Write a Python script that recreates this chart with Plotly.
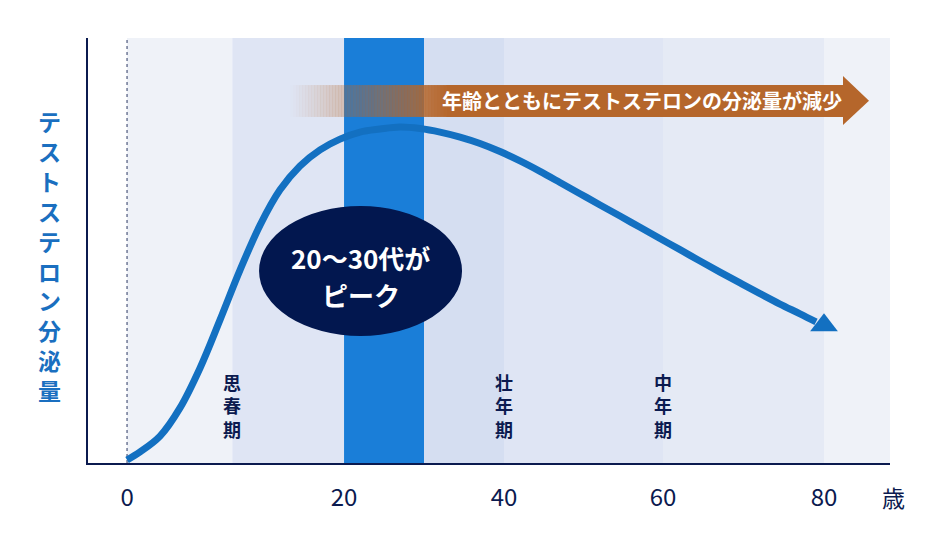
import numpy as np
import plotly.graph_objects as go

# ---------------- data ----------------
AGE_TICKS = [0, 20, 40, 60, 80]
TICK_LABELS = ["0", "20", "40", "60", "80"]
TICK_POS = [127, 344, 504, 663, 824]   # horizontal scale position of each tick age

CURVE_AGE = [0.0, 1.20, 3.04, 4.88, 6.73, 8.57, 10.41, 12.26, 14.10, 15.94, 17.79, 19.63,
             22.0, 24.5, 27.0, 29.5, 32.0, 34.5, 37.0, 39.5,
             42.01, 44.53, 47.04, 49.56, 52.08, 54.59, 57.11, 59.62,
             62.11, 64.60, 67.08, 69.57, 72.05, 74.53, 77.02, 79.01]
CURVE_LEVEL = [0.9, 3.3, 8.0, 16.4, 28.3, 42.6, 57.4, 70.8, 81.3, 88.4, 93.2, 96.4,
               98.5, 99.4, 100.0, 99.55, 98.5, 97.0, 95.1, 92.7,
               89.9, 86.8, 83.5, 80.15, 76.8, 73.5, 70.15, 66.8,
               63.5, 60.1, 56.8, 53.6, 50.4, 47.3, 44.4, 42.0]
ARROW_AGE = 80.0
ARROW_LEVEL = 41.0

BAND_EDGES = [0, 9.7, 20, 30, 40, 60, 80, 88.2]
BAND_COLORS = ["#eff2f8", "#dfe5f4", "#1a7ed8", "#d5def1", "#dfe5f4", "#e5eaf5", "#eff2f8"]

STAGE_AGES = [9.7, 40, 60]
STAGE_LABELS = ["思<br>春<br>期", "壮<br>年<br>期", "中<br>年<br>期"]

Y_TITLE = "テストステロン分泌量"
BANNER_TEXT = "年齢とともにテストステロンの分泌量が減少"
PEAK_TEXT = ["20～30代が", "ピーク"]
UNIT_TEXT = "歳"

X_RANGE_AGE = [-3.6, 88.2]
Y_RANGE = [0, 126.5]

# ---------------- helpers ----------------
def to_pos(a):
    a = np.asarray(a, dtype=float)
    p = np.interp(a, AGE_TICKS, TICK_POS)
    s_hi = (TICK_POS[-1] - TICK_POS[-2]) / (AGE_TICKS[-1] - AGE_TICKS[-2])
    s_lo = (TICK_POS[1] - TICK_POS[0]) / (AGE_TICKS[1] - AGE_TICKS[0])
    p = np.where(a > AGE_TICKS[-1], TICK_POS[-1] + (a - AGE_TICKS[-1]) * s_hi, p)
    p = np.where(a < AGE_TICKS[0], TICK_POS[0] + (a - AGE_TICKS[0]) * s_lo, p)
    return p

NAVY = "#0b1a4f"
CURVE = "#1370c1"
FONT = "Noto Sans CJK JP"
BROWN = (181, 102, 43)

x_lo, x_hi = [float(v) for v in to_pos(X_RANGE_AGE)]

fig = go.Figure()

shapes = []
# background bands
for i, c in enumerate(BAND_COLORS):
    shapes.append(dict(type="rect", xref="x", yref="paper",
                       x0=float(to_pos(BAND_EDGES[i])), x1=float(to_pos(BAND_EDGES[i + 1])),
                       y0=0, y1=1, fillcolor=c, line=dict(width=0), layer="below"))
# dotted line at age 0
shapes.append(dict(type="line", xref="x", yref="paper",
                   x0=float(to_pos(0)), x1=float(to_pos(0)), y0=0, y1=1,
                   line=dict(color="#6f7896", width=1.5, dash="dot"), layer="below"))

# gradient banner (decoration)
g0, g1, bx1 = 290.0, 446.0, 843.0
by0, by1 = 103.0, 112.5
N = 52
w = (g1 - g0) / N
for k in range(N):
    a = ((k + 0.5) / N) ** 1.1
    shapes.append(dict(type="rect", xref="x", yref="y", x0=g0 + k * w, x1=g0 + (k + 1) * w + 0.3,
                       y0=by0, y1=by1,
                       fillcolor=f"rgba({BROWN[0]},{BROWN[1]},{BROWN[2]},{a:.3f})",
                       line=dict(width=0), layer="above"))
shapes.append(dict(type="rect", xref="x", yref="y", x0=g1, x1=bx1 + 0.5, y0=by0, y1=by1,
                   fillcolor=f"rgb({BROWN[0]},{BROWN[1]},{BROWN[2]})", line=dict(width=0), layer="above"))
shapes.append(dict(type="path", xref="x", yref="y",
                   path=f"M {bx1},100.6 L 869,107.8 L {bx1},115.2 Z",
                   fillcolor=f"rgb({BROWN[0]},{BROWN[1]},{BROWN[2]})", line=dict(width=0), layer="above"))
# peak ellipse
shapes.append(dict(type="circle", xref="x", yref="y", x0=259, x1=462, y0=37.8, y1=76.5,
                   fillcolor="#02174f", line=dict(width=0), layer="above"))

fig.add_trace(go.Scatter(x=to_pos(CURVE_AGE), y=CURVE_LEVEL, mode="lines",
                         line=dict(color=CURVE, width=7, shape="spline", smoothing=1.0),
                         hoverinfo="skip", showlegend=False))
fig.add_trace(go.Scatter(x=to_pos([ARROW_AGE]), y=[ARROW_LEVEL], mode="markers",
                         marker=dict(symbol="triangle-up", size=24, color=CURVE, line=dict(width=0)),
                         cliponaxis=False, hoverinfo="skip", showlegend=False))

annotations = []
annotations.append(dict(text="<b>" + "<br>".join(list(Y_TITLE)) + "</b>", xref="paper", yref="paper",
                        x=-0.0474, y=0.489, xanchor="center", yanchor="middle", showarrow=False,
                        font=dict(family=FONT, size=23, color="#1a6fc0")))
for a, t in zip(STAGE_AGES, STAGE_LABELS):
    annotations.append(dict(text="<b>" + t + "</b>", xref="x", yref="y", x=float(to_pos(a)), y=17.0,
                            xanchor="center", yanchor="middle", showarrow=False,
                            font=dict(family=FONT, size=18, color=NAVY)))
annotations.append(dict(text="<b>" + BANNER_TEXT + "</b>", xref="x", yref="y", x=642, y=107.8,
                        xanchor="center", yanchor="middle", showarrow=False,
                        font=dict(family=FONT, size=20, color="white")))
annotations.append(dict(text="<b>" + PEAK_TEXT[0] + "</b>", xref="x", yref="y", x=360.5, y=61.3,
                        xanchor="center", yanchor="middle", showarrow=False,
                        font=dict(family=FONT, size=26, color="white")))
annotations.append(dict(text="<b>" + PEAK_TEXT[1] + "</b>", xref="x", yref="y", x=360.5, y=50.3,
                        xanchor="center", yanchor="middle", showarrow=False,
                        font=dict(family=FONT, size=26, color="white")))
annotations.append(dict(text=UNIT_TEXT, xref="paper", yref="paper", x=(893 - 88) / 802, y=-0.08,
                        xanchor="center", yanchor="middle", showarrow=False,
                        font=dict(family=FONT, size=23, color=NAVY)))

fig.update_layout(
    width=929, height=537,
    margin=dict(l=88, r=39, t=38, b=74),
    paper_bgcolor="white", plot_bgcolor="white",
    shapes=shapes, annotations=annotations,
    showlegend=False,
    xaxis=dict(range=[x_lo, x_hi], tickvals=list(to_pos(AGE_TICKS)), ticktext=TICK_LABELS,
               showgrid=False, zeroline=False, showline=True, linecolor=NAVY, linewidth=2,
               ticks="outside", ticklen=12, tickcolor="rgba(0,0,0,0)",
               tickfont=dict(family=FONT, size=24, color=NAVY), fixedrange=True),
    yaxis=dict(range=Y_RANGE, showticklabels=False, showgrid=False, zeroline=False,
               showline=True, linecolor=NAVY, linewidth=2, ticks="", fixedrange=True),
)

fig.write_html("out.html")
